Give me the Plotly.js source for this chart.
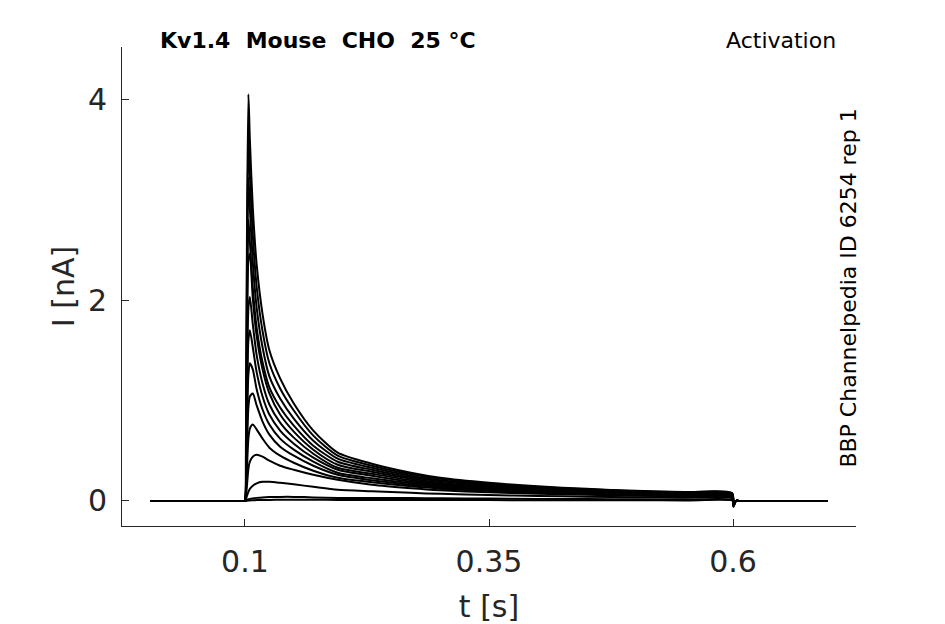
<!DOCTYPE html>
<html>
<head>
<meta charset="utf-8">
<script src="https://cdn.plot.ly/plotly-3.0.1.min.js"></script>
<style>
  body { margin: 0; background: #fff; }
  #chart { width: 945px; height: 624px; }
</style>
</head>
<body>
<div id="chart"></div>
<script>
const timeGrid = [0.003, 0.098, 0.1, 0.101, 0.102, 0.1035, 0.105, 0.108, 0.112, 0.118, 0.125, 0.136, 0.15, 0.17, 0.195,
                  0.23, 0.27, 0.3, 0.35, 0.4, 0.45, 0.5, 0.55, 0.599, 0.6005, 0.603, 0.606, 0.697];

// current (nA) for each voltage step, largest first
const sweep01 = [0, 0, 0, 0.6, 2.6, 4.05, 3.60, 2.92, 2.35, 1.86, 1.50, 1.22, 0.97, 0.70, 0.48, 0.37, 0.28, 0.23, 0.18, 0.145, 0.12, 0.10, 0.088, 0.078, -0.06, 0, 0, 0];
const sweep02 = [0, 0, 0, 0.5, 2.3, 3.63, 3.25, 2.65, 2.13, 1.69, 1.37, 1.12, 0.90, 0.65, 0.45, 0.35, 0.265, 0.22, 0.17, 0.138, 0.115, 0.097, 0.085, 0.075, -0.05, 0, 0, 0];
const sweep03 = [0, 0, 0, 0.45, 2.0, 3.22, 2.92, 2.38, 1.92, 1.53, 1.24, 1.02, 0.82, 0.60, 0.42, 0.33, 0.25, 0.205, 0.16, 0.13, 0.11, 0.093, 0.08, 0.07, -0.05, 0, 0, 0];
const sweep04 = [0, 0, 0, 0.4, 1.7, 2.80, 2.58, 2.12, 1.72, 1.38, 1.13, 0.93, 0.75, 0.55, 0.39, 0.31, 0.235, 0.195, 0.152, 0.124, 0.104, 0.088, 0.076, 0.067, -0.05, 0, 0, 0];
const sweep05 = [0, 0, 0, 0.35, 1.4, 2.40, 2.46, 2.02, 1.64, 1.31, 1.07, 0.86, 0.69, 0.51, 0.36, 0.29, 0.22, 0.182, 0.143, 0.117, 0.098, 0.083, 0.072, 0.063, -0.04, 0, 0, 0];
const sweep06 = [0, 0, 0, 0.3, 1.1, 1.92, 2.03, 1.76, 1.45, 1.17, 0.96, 0.78, 0.63, 0.47, 0.33, 0.27, 0.205, 0.17, 0.135, 0.11, 0.092, 0.078, 0.068, 0.059, -0.04, 0, 0, 0];
const sweep07 = [0, 0, 0, 0.25, 0.9, 1.60, 1.70, 1.53, 1.28, 1.04, 0.86, 0.70, 0.57, 0.43, 0.31, 0.25, 0.19, 0.158, 0.126, 0.103, 0.087, 0.074, 0.064, 0.056, -0.04, 0, 0, 0];
const sweep08 = [0, 0, 0, 0.2, 0.7, 1.26, 1.37, 1.31, 1.11, 0.91, 0.76, 0.62, 0.51, 0.39, 0.28, 0.225, 0.175, 0.146, 0.117, 0.096, 0.081, 0.069, 0.06, 0.052, -0.03, 0, 0, 0];
const sweep09 = [0, 0, 0, 0.15, 0.5, 0.93, 1.04, 1.07, 0.95, 0.79, 0.66, 0.54, 0.45, 0.35, 0.26, 0.205, 0.16, 0.134, 0.108, 0.089, 0.075, 0.064, 0.056, 0.048, -0.03, 0, 0, 0];
const sweep10 = [0, 0, 0, 0.1, 0.32, 0.62, 0.72, 0.76, 0.71, 0.62, 0.53, 0.45, 0.38, 0.30, 0.23, 0.185, 0.145, 0.122, 0.098, 0.082, 0.069, 0.059, 0.051, 0.044, -0.03, 0, 0, 0];
const sweep11 = [0, 0, 0, 0.05, 0.15, 0.32, 0.39, 0.44, 0.46, 0.44, 0.40, 0.35, 0.31, 0.26, 0.21, 0.16, 0.125, 0.105, 0.085, 0.071, 0.06, 0.051, 0.045, 0.039, -0.02, 0, 0, 0];
const sweep12 = [0, 0, 0, 0.02, 0.05, 0.09, 0.12, 0.15, 0.175, 0.19, 0.19, 0.18, 0.165, 0.14, 0.11, 0.095, 0.08, 0.07, 0.058, 0.049, 0.042, 0.036, 0.032, 0.028, -0.02, 0, 0, 0];
const sweep13 = [0, 0, 0, 0.005, 0.01, 0.015, 0.02, 0.025, 0.03, 0.035, 0.038, 0.04, 0.04, 0.035, 0.03, 0.03, 0.028, 0.026, 0.023, 0.02, 0.018, 0.016, 0.014, 0.012, -0.01, 0, 0, 0];
const sweep14 = [0, 0, 0, 0, 0.002, 0.004, 0.005, 0.006, 0.008, 0.01, 0.01, 0.012, 0.012, 0.011, 0.01, 0.01, 0.01, 0.008, 0.008, 0.007, 0.006, 0.006, 0.005, 0.005, -0.01, 0, 0, 0];

const xTickVals = [0.1, 0.35, 0.6];
const xTickText = ['0.1', '0.35', '0.6'];
const yTickVals = [0, 2, 4];
const yTickText = ['0', '2', '4'];

const sweeps = [sweep01, sweep02, sweep03, sweep04, sweep05, sweep06, sweep07,
                sweep08, sweep09, sweep10, sweep11, sweep12, sweep13, sweep14];

const data = sweeps.map((s) => ({
  x: timeGrid,
  y: s,
  type: 'scatter',
  mode: 'lines',
  line: { color: '#000', width: 2, shape: 'spline', smoothing: 0.7 },
  hoverinfo: 'skip',
}));

const axisColor = '#262626';
const font = 'DejaVu Sans, sans-serif';

const layout = {
  width: 945,
  height: 624,
  margin: { l: 122, r: 89, t: 47, b: 98 },
  paper_bgcolor: '#fff',
  plot_bgcolor: '#fff',
  showlegend: false,
  font: { family: font, color: axisColor },
  xaxis: {
    range: [-0.026, 0.726],
    tickvals: xTickVals,
    ticktext: xTickText,
    ticks: 'inside',
    ticklen: 7,
    tickcolor: axisColor,
    showline: true,
    linecolor: axisColor,
    linewidth: 1,
    showgrid: false,
    zeroline: false,
    tickfont: { size: 30, family: font, color: axisColor },
    ticklabelstandoff: 9,
    title: { text: 't [s]', font: { size: 30, family: font, color: axisColor }, standoff: 19 },
  },
  yaxis: {
    range: [-0.25, 4.52],
    tickvals: yTickVals,
    ticktext: yTickText,
    ticks: 'inside',
    ticklen: 7,
    tickcolor: axisColor,
    showline: true,
    linecolor: axisColor,
    linewidth: 1,
    showgrid: false,
    zeroline: false,
    tickfont: { size: 30, family: font, color: axisColor },
    ticklabelstandoff: 8,
    title: { text: 'I [nA]', font: { size: 30, family: font, color: axisColor }, standoff: 4 },
  },
  annotations: [
    {
      xref: 'paper', yref: 'paper', x: 0.049, y: 1.0146,
      xanchor: 'left', yanchor: 'middle', showarrow: false,
      text: '<b>Kv1.4  Mouse  CHO  25 °C</b>',
      font: { size: 22, family: font, color: '#000' },
    },
    {
      xref: 'paper', yref: 'paper', x: 0.9755, y: 1.0146,
      xanchor: 'right', yanchor: 'middle', showarrow: false,
      text: 'Activation',
      font: { size: 22, family: font, color: '#000' },
    },
    {
      xref: 'paper', yref: 'paper', x: 0.990, y: 0.497,
      xanchor: 'center', yanchor: 'middle', showarrow: false,
      textangle: -90,
      text: 'BBP Channelpedia ID 6254 rep 1',
      font: { size: 22, family: font, color: '#000' },
    },
  ],
};

Plotly.newPlot('chart', data, layout, { staticPlot: true });
</script>
</body>
</html>
